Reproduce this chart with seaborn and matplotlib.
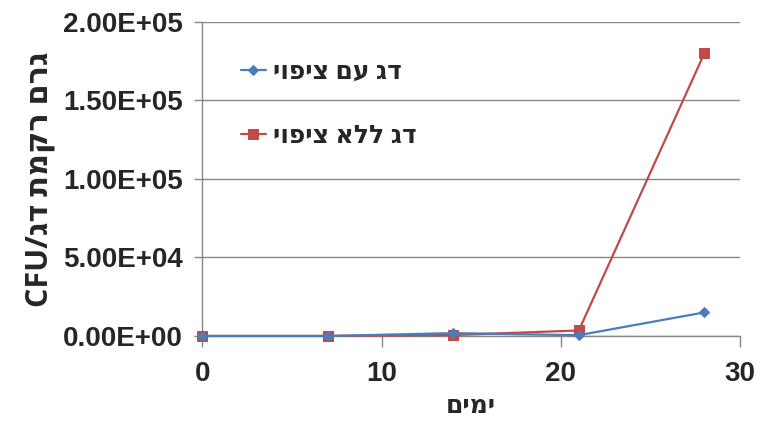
import numpy as np
import seaborn as sns
import matplotlib.pyplot as plt
from matplotlib.ticker import FuncFormatter

# data
days = [0, 7, 14, 21, 28]
coated = [0, 0, 1800, 500, 15000]
uncoated = [0, 0, 600, 3500, 180000]

# hebrew labels (logical order); matplotlib has no bidi so they get reversed for display
label_coated = "דג עם ציפוי"
label_uncoated = "דג ללא ציפוי"
xlabel = "ימים"
ylabel_he = "גרם רקמת דג"

def rtl(s):
    return s[::-1]

sns.set_theme(style="white")
plt.rcParams['font.family'] = ['Liberation Sans', 'DejaVu Sans']
plt.rcParams['font.weight'] = 'bold'
he_font = ['Open Sans', 'DejaVu Sans']

blue = "#4A7EBB"
red = "#BE4B48"
grey = "#868686"

fig = plt.figure(figsize=(7.6, 4.21), dpi=100)
ax = fig.add_axes([0.266, 0.202, 0.708, 0.746])

lw = 1.6
sns.lineplot(x=days, y=coated, ax=ax, color=blue, lw=lw, marker="D", ms=5,
             mec=blue, label=rtl(label_coated), clip_on=False, zorder=4)
sns.lineplot(x=days, y=uncoated, ax=ax, color=red, lw=lw, marker="s", ms=7,
             mec=red, label=rtl(label_uncoated), clip_on=False, zorder=3)

ax.set_xlim(0, 30)
ax.set_ylim(0, 200000)
ax.set_xticks([0, 10, 20, 30])
ax.set_yticks(np.arange(0, 200001, 50000))
ax.yaxis.set_major_formatter(FuncFormatter(lambda v, p: "{:.2E}".format(v)))

ax.grid(axis='y', color=grey, lw=1)
ax.set_axisbelow(True)
for s in ['top', 'right']:
    ax.spines[s].set_visible(False)
for s in ['left', 'bottom']:
    ax.spines[s].set_color(grey)
    ax.spines[s].set_linewidth(1)
ax.tick_params(axis='both', direction='out', color=grey, width=1,
               labelsize=20, bottom=True, left=True)
ax.tick_params(axis='x', length=8, pad=10)
ax.tick_params(axis='y', length=6, pad=8)
for t in ax.get_xticklabels() + ax.get_yticklabels():
    t.set_fontweight('bold')

ax.set_xlabel(rtl(xlabel), fontsize=18, fontweight='bold', labelpad=5, family=he_font)
ax.set_ylabel("CFU/" + rtl(ylabel_he), fontsize=22, fontweight='bold', labelpad=6,
              family=he_font)

leg = ax.legend(loc='upper left', bbox_to_anchor=(0.03, 0.95), frameon=False,
                fontsize=18, handlelength=1.0, handletextpad=0.3, labelspacing=1.55)
for t in leg.get_texts():
    t.set_fontweight('bold')
    t.set_family(he_font)

fig.savefig("out.png", dpi=100)
